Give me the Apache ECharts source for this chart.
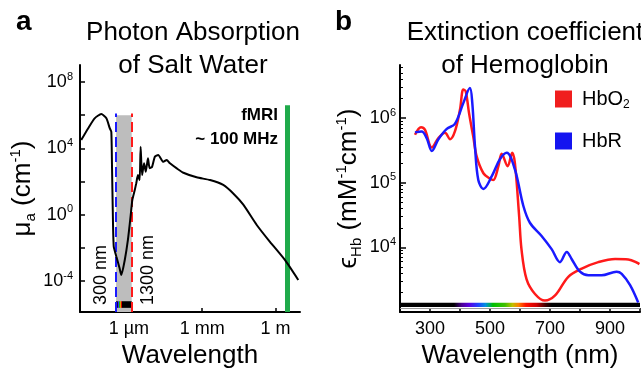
<!DOCTYPE html>
<html>
<head>
<meta charset="utf-8">
<script src="https://cdn.jsdelivr.net/npm/echarts@6/dist/echarts.min.js"></script>
<style>
html, body { margin: 0; padding: 0; background: #fff; }
#chart { width: 641px; height: 377px; }
</style>
</head>
<body>
<div id="chart"></div>
<script>
// panel a: photon absorption of salt water (wavelength in m, mu_a in 1/cm)
const waterWavelength = [
    1.12e-8, 2.14e-8, 3.98e-8, 7.41e-8, 1.20e-7, 1.66e-7, 1.91e-7, 2.04e-7, 2.19e-7, 2.40e-7,
    3.09e-7, 4.17e-7, 4.90e-7, 6.76e-7, 9.12e-7, 1.17e-6, 1.38e-6, 1.74e-6, 2.0e-6, 2.34e-6,
    2.75e-6, 3.02e-6, 3.47e-6, 4.17e-6, 4.90e-6, 6.03e-6, 7.08e-6, 8.91e-6, 1.15e-5, 1.58e-5,
    2.57e-5, 3.5e-5, 4.79e-5, 9.12e-5, 1.70e-4, 5.89e-4, 2.09e-3, 7.24e-3, 1.86e-2, 4.79e-2,
    0.17, 0.59, 2.45, 8.5
];
const waterAbsorption = [
    3.2e4, 1.6e5, 6.5e5, 1.17e6, 6.5e5, 1.6e5, 1.0e5, 780, 1.9, 1.2e-2,
    2.9e-3, 5.8e-4, 2.3e-4, 1.8e-3, 3.0e-2, 0.76, 7.6, 31, 78, 245,
    123, 1.26e4, 245, 1260, 390, 2500, 630, 780, 3100, 4000,
    1550, 2000, 1260, 620, 340, 180, 123, 62, 19, 4.0,
    0.24, 0.023, 1.8e-3, 1.15e-4
];
const windowEdges = [300e-9, 1300e-9];   // dashed lines
const windowTop = 1e6;
const fmriWavelength = 3;                 // ~100 MHz
const fmriTop = 4e6;
const waterXTicks = [1e-6, 1e-3, 1];
const waterXLabels = ['1 µm', '1 mm', '1 m'];
const waterYTicks = [1e-4, 1e-2, 1, 1e2, 1e4, 1e6, 1e8];
const waterYLabels = [1e-4, 1, 1e4, 1e8];

// panel b: extinction coefficient of hemoglobin (nm, 1/(mM cm))
const hbo2Wavelength = [
    250, 270, 283, 306, 328, 350, 367, 383, 400, 411, 419, 430, 444, 456, 478, 500, 511,
    528, 539, 559, 574, 583, 597, 605, 622, 650, 683, 717, 761, 806, 861, 917, 961, 998
];
const hbo2 = [
    5.5e5, 7.2e5, 6.6e5, 3.5e5, 4.9e5, 5.9e5, 4.7e5, 6.2e5, 1.35e6, 2.75e6, 2.6e6, 1.2e6, 5.2e5, 2.5e5, 1.4e5, 1.15e5, 1.1e5,
    1.8e5, 2.8e5, 1.8e5, 2.9e5, 2.0e5, 3.1e4, 9.3e3, 3.2e3, 1.9e3, 1.5e3, 1.8e3, 3.5e3, 4.7e3, 5.9e3, 6.6e3, 6.5e3, 5.5e3
];
const hbrWavelength = [
    250, 272, 289, 306, 328, 356, 383, 411, 433, 441, 450, 461, 478, 506, 533, 556, 583,
    611, 633, 672, 706, 733, 756, 772, 800, 828, 872, 922, 939, 967, 994
];
const hbr = [
    6.0e5, 6.2e5, 4.9e5, 3.1e5, 4.7e5, 6.8e5, 8.1e5, 1.7e6, 2.9e6, 1.7e6, 3.6e5, 1.1e5, 8.0e4, 1.26e5, 2.3e5, 2.9e5, 1.6e5,
    4.4e4, 2.4e4, 1.5e4, 9.3e3, 5.9e3, 8.5e3, 6.6e3, 4.2e3, 3.7e3, 3.7e3, 4.2e3, 3.9e3, 2.6e3, 1.4e3
];
const hbXLabels = [300, 500, 700, 900];
const hbYLabels = [1e4, 1e5, 1e6];

const FONT = 'Liberation Sans, Arial, sans-serif';
const lg = Math.log10;

const pairs = (xs, ys, fx) => xs.map((x, i) => [fx(x), lg(ys[i])]);

const supRich = {
    b: { fontSize: 18, lineHeight: 22, color: '#000', fontFamily: FONT },
    p: { fontSize: 11, lineHeight: 11, verticalAlign: 'top', color: '#000', fontFamily: FONT }
};
const powLabel = v => '{b|10}{p|' + Math.round(v) + '}';

const nameRich = {
    n: { fontSize: 26, lineHeight: 30, color: '#000', fontFamily: FONT },
    sub: { fontSize: 15, lineHeight: 15, verticalAlign: 'bottom', color: '#000', fontFamily: FONT },
    sup: { fontSize: 15, lineHeight: 15, verticalAlign: 'top', color: '#000', fontFamily: FONT }
};

const axisLine = { show: true, onZero: false, lineStyle: { color: '#000', width: 2 } };

// rainbow for visible band, stops relative to the bar
const rainbow = (a, b) => {
    const span = b - a;
    const at = v => Math.min(1, Math.max(0, (v - a) / span));
    return {
        type: 'linear', x: 0, y: 0, x2: 1, y2: 0,
        colorStops: [
            { offset: 0, color: '#000' },
            { offset: at(380), color: '#000' },
            { offset: at(405), color: '#4a0090' },
            { offset: at(430), color: '#5a00e0' },
            { offset: at(460), color: '#2040ff' },
            { offset: at(485), color: '#0090e0' },
            { offset: at(510), color: '#00c000' },
            { offset: at(550), color: '#40c000' },
            { offset: at(575), color: '#c0c000' },
            { offset: at(595), color: '#ff8000' },
            { offset: at(620), color: '#ff1000' },
            { offset: at(655), color: '#d00000' },
            { offset: at(685), color: '#400000' },
            { offset: at(705), color: '#000' },
            { offset: 1, color: '#000' }
        ]
    };
};

const chart = echarts.init(document.getElementById('chart'));

const minorTicks = [];
for (let n = 3; n <= 6; n++) {
    for (let k = 2; k <= 9; k++) minorTicks.push(lg(k * Math.pow(10, n)));
}

const nmA = [lg(windowEdges[0]), lg(windowEdges[1])];

chart.setOption({
    animation: false,
    backgroundColor: '#fff',
    textStyle: { fontFamily: FONT },
    title: [
        { text: 'a', left: 11, top: 3, textStyle: { fontSize: 28, fontWeight: 'bold', color: '#000', fontFamily: FONT } },
        {
            text: 'Photon Absorption\nof Salt Water', left: 188, top: 11, textAlign: 'center',
            textStyle: { fontSize: 26, fontWeight: 'normal', lineHeight: 33, color: '#000', fontFamily: FONT }
        },
        { text: 'b', left: 330, top: 3, textStyle: { fontSize: 28, fontWeight: 'bold', color: '#000', fontFamily: FONT } },
        {
            text: 'Extinction coefficient\nof Hemoglobin', left: 520, top: 11, textAlign: 'center',
            textStyle: { fontSize: 26, fontWeight: 'normal', lineHeight: 33, color: '#000', fontFamily: FONT }
        }
    ],
    legend: {
        data: ['HbO2', 'HbR'],
        orient: 'vertical',
        left: 550, top: 84,
        icon: 'rect',
        itemWidth: 17, itemHeight: 17, itemGap: 20,
        formatter: name => name === 'HbO2' ? '{n|HbO}{s|2}' : '{n|HbR}',
        textStyle: {
            padding: [0, 0, 0, 5],
            rich: {
                n: { fontSize: 20, lineHeight: 24, color: '#000', fontFamily: FONT },
                s: { fontSize: 12, lineHeight: 12, verticalAlign: 'bottom', color: '#000', fontFamily: FONT }
            }
        }
    },
    grid: [
        { left: 80, top: 65, width: 220, height: 247 },
        { left: 400, top: 65, width: 240, height: 247 }
    ],
    xAxis: [
        {
            gridIndex: 0, type: 'value', min: -8, max: 1,
            axisLine,
            axisTick: { inside: true, length: 4, customValues: waterXTicks.map(lg), lineStyle: { color: '#000', width: 1.5 } },
            axisLabel: {
                customValues: waterXTicks.map(lg), margin: 8, fontSize: 18, color: '#000', fontFamily: FONT,
                formatter: v => waterXLabels[waterXTicks.findIndex(t => Math.abs(lg(t) - v) < 1e-6)] || ''
            },
            splitLine: { show: false },
            name: 'Wavelength', nameLocation: 'middle', nameGap: 30,
            nameTextStyle: { fontSize: 26, color: '#000', fontFamily: FONT }
        },
        {
            gridIndex: 1, type: 'value', min: 200, max: 1000, interval: 100,
            axisLine,
            axisTick: { inside: true, length: 4, lineStyle: { color: '#000', width: 1.5 } },
            axisLabel: { customValues: hbXLabels, margin: 8, fontSize: 18, color: '#000', fontFamily: FONT },
            splitLine: { show: false },
            name: 'Wavelength (nm)', nameLocation: 'middle', nameGap: 30,
            nameTextStyle: { fontSize: 26, color: '#000', fontFamily: FONT }
        }
    ],
    yAxis: [
        {
            gridIndex: 0, type: 'value', min: -5.87, max: 9.03,
            axisLine,
            axisTick: { inside: true, length: 5, customValues: waterYTicks.map(lg), lineStyle: { color: '#000', width: 1.5 } },
            axisLabel: { customValues: waterYLabels.map(lg), margin: 7, formatter: powLabel, rich: supRich },
            splitLine: { show: false },
            name: '{n|μ}{sub|a}{n| (cm}{sup|-1}{n|)}', nameLocation: 'middle', nameGap: 42,
            nameTextStyle: { rich: nameRich }
        },
        {
            gridIndex: 1, type: 'value', min: 3, max: 6.82, position: 'left',
            axisLine,
            axisTick: { inside: true, length: 6, customValues: [3, 4, 5, 6], lineStyle: { color: '#000', width: 1.5 } },
            axisLabel: { customValues: hbYLabels.map(lg), margin: 4, formatter: powLabel, rich: supRich },
            splitLine: { show: false },
            name: '{n|ϵ}{sub|Hb}{n| (mM}{sup|-1}{n|cm}{sup|-1}{n|)}', nameLocation: 'middle', nameGap: 36,
            nameTextStyle: { rich: nameRich }
        },
        {
            gridIndex: 1, type: 'value', min: 3, max: 6.82, position: 'left', offset: 0,
            axisLine: { show: false, onZero: false },
            axisTick: { inside: true, length: 3, customValues: minorTicks, lineStyle: { color: '#000', width: 1 } },
            axisLabel: { show: false },
            splitLine: { show: false }
        }
    ],
    series: [
        {
            name: 'water', type: 'line', xAxisIndex: 0, yAxisIndex: 0,
            data: pairs(waterWavelength, waterAbsorption, lg),
            showSymbol: false, smooth: 0.2, z: 5,
            lineStyle: { color: '#000', width: 2 },
            markArea: {
                silent: true,
                data: [
                    [
                        { xAxis: nmA[0], yAxis: -5.87, itemStyle: { color: '#bdbdbd' } },
                        { xAxis: nmA[1], yAxis: lg(windowTop) }
                    ],
                    [
                        { xAxis: nmA[0], yAxis: -5.62, itemStyle: { color: rainbow(300, 1300) } },
                        { xAxis: nmA[1], yAxis: -5.22 }
                    ]
                ]
            },
            markLine: {
                silent: true, symbol: 'none', label: { show: false },
                data: [
                    [
                        { coord: [nmA[0], -5.87], lineStyle: { color: '#1a1aff', width: 2, type: [10, 5] } },
                        { coord: [nmA[0], lg(windowTop) + 0.1] }
                    ],
                    [
                        { coord: [nmA[1], -5.87], lineStyle: { color: '#ff1a1a', width: 2, type: [10, 5] } },
                        { coord: [nmA[1], lg(windowTop) + 0.1] }
                    ],
                    [
                        { coord: [lg(fmriWavelength), -5.87], lineStyle: { color: '#1faa4a', width: 5, type: 'solid' } },
                        { coord: [lg(fmriWavelength), lg(fmriTop)] }
                    ]
                ]
            }
        },
        {
            name: 'HbO2', type: 'line', xAxisIndex: 1, yAxisIndex: 1,
            data: pairs(hbo2Wavelength, hbo2, x => x),
            showSymbol: false, smooth: 0.35, z: 4,
            itemStyle: { color: '#f01e1e' },
            lineStyle: { color: '#ff1a1a', width: 2.5 },
            markArea: {
                silent: true,
                data: [[
                    { xAxis: 200, yAxis: 3.077, itemStyle: { color: rainbow(200, 1000) } },
                    { xAxis: 1000, yAxis: 3.143 }
                ]]
            },
            markLine: {
                silent: true, symbol: 'none', label: { show: false },
                lineStyle: { color: '#9a9a9a', width: 1, type: 'solid' },
                data: [{ yAxis: 3.06 }]
            }
        },
        {
            name: 'HbR', type: 'line', xAxisIndex: 1, yAxisIndex: 1,
            data: pairs(hbrWavelength, hbr, x => x),
            showSymbol: false, smooth: 0.35, z: 4,
            itemStyle: { color: '#1414f0' },
            lineStyle: { color: '#1a1aff', width: 2.5 }
        }
    ],
    graphic: [
        {
            type: 'text', x: 278, y: 115,
            style: { text: 'fMRI', font: 'bold 17px ' + FONT, fill: '#000', align: 'right', verticalAlign: 'middle', textAlign: 'right', textVerticalAlign: 'middle' }
        },
        {
            type: 'text', x: 278, y: 139,
            style: { text: '~ 100 MHz', font: 'bold 17px ' + FONT, fill: '#000', align: 'right', verticalAlign: 'middle', textAlign: 'right', textVerticalAlign: 'middle' }
        },
        {
            type: 'text', x: 101, y: 305, rotation: Math.PI / 2,
            style: { text: '300 nm', font: '18px ' + FONT, fill: '#000', align: 'left', verticalAlign: 'middle', textAlign: 'left', textVerticalAlign: 'middle' }
        },
        {
            type: 'text', x: 148, y: 305, rotation: Math.PI / 2,
            style: { text: '1300 nm', font: '18px ' + FONT, fill: '#000', align: 'left', verticalAlign: 'middle', textAlign: 'left', textVerticalAlign: 'middle' }
        }
    ]
});
</script>
</body>
</html>
